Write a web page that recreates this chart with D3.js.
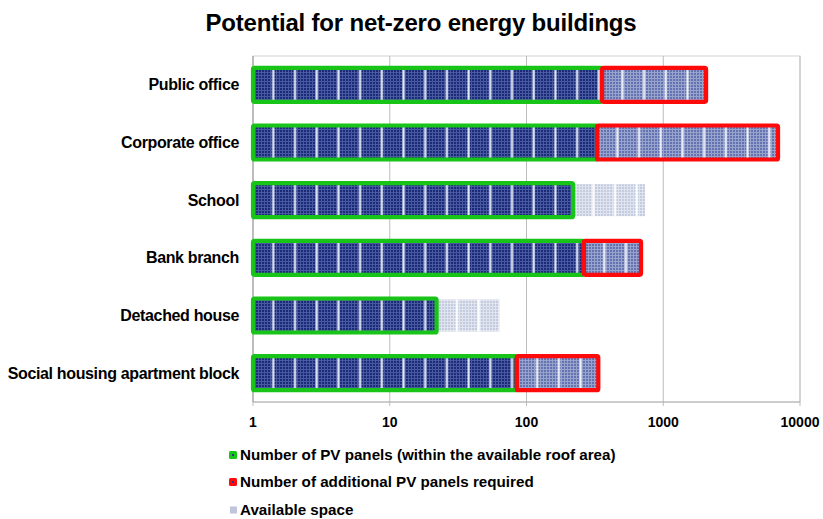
<!DOCTYPE html>
<html>
<head>
<meta charset="utf-8">
<script src="https://cdn.jsdelivr.net/npm/d3@7"></script>
<style>
  body { margin: 0; background: #fff; font-family: "Liberation Sans", Arial, sans-serif; }
</style>
</head>
<body>
<svg id="chart"></svg>
<script>
const categories = [
  "Public office",
  "Corporate office",
  "School",
  "Bank branch",
  "Detached house",
  "Social housing apartment block",
];
// panels that fit on the roof
const panels = [357, 328, 219, 263, 22, 85];
// extra panels needed (stacked on top of panels)
const additional = [1700, 6580, 0, 425, 0, 250];
// unused roof space (stacked on top of panels)
const spare = [0, 0, 517, 0, 42, 0];
const xTicks = [1, 10, 100, 1000, 10000];
const legendLabels = [
  "Number of PV panels (within the available roof area)",
  "Number of additional PV panels required",
  "Available space",
];

const color = {
  green: "#17c417",
  red: "#ff0a0a",
  grid: "#bdbdbd",
};

const size = { width: 823, height: 519 };
const margin = { top: 56, bottom: 117, left: 253, right: 23 };

const svg = d3.select("#chart").attr("width", size.width).attr("height", size.height);

const x = d3
  .scaleLog()
  .domain([1, 10000])
  .range([margin.left, size.width - margin.right]);

const y = d3
  .scaleBand()
  .domain(categories)
  .range([margin.top, size.height - margin.bottom])
  .paddingInner(0.41)
  .paddingOuter(0.205);

// title
svg
  .append("text")
  .text("Potential for net-zero energy buildings")
  .attr("x", 421)
  .attr("y", 31)
  .attr("text-anchor", "middle")
  .style("font-size", "24px")
  .style("letter-spacing", "-0.2px")
  .style("font-weight", "bold");

// plot frame + gridlines
svg
  .append("rect")
  .attr("x", margin.left)
  .attr("y", margin.top)
  .attr("width", x(10000) - x(1))
  .attr("height", size.height - margin.bottom - margin.top)
  .attr("fill", "none")
  .attr("stroke", "#d2d2d2");

const gridG = svg.append("g");
xTicks.forEach((t) => {
  gridG
    .append("line")
    .attr("x1", x(t))
    .attr("x2", x(t))
    .attr("y1", margin.top)
    .attr("y2", size.height - margin.bottom + 4)
    .attr("stroke", color.grid);
  gridG
    .append("text")
    .text(t)
    .attr("x", x(t))
    .attr("y", 427)
    .attr("text-anchor", "middle")
    .style("font-size", "14px")
    .style("font-weight", "bold");
});
gridG
  .append("line")
  .attr("x1", x(1))
  .attr("x2", x(10000))
  .attr("y1", size.height - margin.bottom)
  .attr("y2", size.height - margin.bottom)
  .attr("stroke", "#b0b0b0");
gridG
  .append("line")
  .attr("x1", x(1))
  .attr("x2", x(1))
  .attr("y1", margin.top)
  .attr("y2", size.height - margin.bottom)
  .attr("stroke", "#a8a8a8");

// category labels
svg
  .append("g")
  .selectAll("text")
  .data(categories)
  .join("text")
  .text((d) => d)
  .attr("x", 239)
  .attr("y", (d) => y(d) + y.bandwidth() / 2)
  .attr("dy", "0.35em")
  .attr("text-anchor", "end")
  .style("font-size", "16px")
  .style("letter-spacing", "-0.35px")
  .style("font-weight", "bold");

// solar panel textures
const defs = svg.append("defs");
const cellPattern = (id, base, line) => {
  const p = defs
    .append("pattern")
    .attr("id", id)
    .attr("patternUnits", "userSpaceOnUse")
    .attr("width", 3)
    .attr("height", 3);
  p.append("rect").attr("width", 3).attr("height", 3).attr("fill", base);
  p.append("rect").attr("width", 1).attr("height", 3).attr("fill", line);
  p.append("rect").attr("width", 3).attr("height", 1).attr("fill", line);
};
cellPattern("cellDark", "#1c2b78", "#4859a2");
cellPattern("cellMid", "#6373b0", "#97a3cd");
cellPattern("cellLight", "#c5cbde", "#e0e4ee");

const sepPattern = (id, x0, fill) => {
  const p = defs
    .append("pattern")
    .attr("id", id)
    .attr("patternUnits", "userSpaceOnUse")
    .attr("width", 21.7)
    .attr("height", 10)
    .attr("patternTransform", `translate(${x0},0)`);
  p.append("rect").attr("x", 19.2).attr("width", 2.2).attr("height", 10).attr("fill", fill);
};

const segments = [];
categories.forEach((c, i) => {
  if (spare[i] > 0)
    segments.push({ c, start: panels[i], end: panels[i] + spare[i], kind: "spare" });
  segments.push({ c, start: 1, end: panels[i], kind: "panels" });
  if (additional[i] > 0)
    segments.push({ c, start: panels[i], end: panels[i] + additional[i], kind: "extra" });
});

const style = {
  spare: { cell: "cellLight", sep: "#ffffff", stroke: "none", inset: 1 },
  panels: { cell: "cellDark", sep: "#e4e9f6", stroke: color.green, inset: 0 },
  extra: { cell: "cellMid", sep: "#eef1fa", stroke: color.red, inset: 0 },
};

const barG = svg.append("g");
segments.forEach((s, i) => {
  const st = style[s.kind];
  const x0 = x(s.start);
  const w = x(s.end) - x(s.start);
  const y0 = y(s.c) + st.inset;
  const h = y.bandwidth() - st.inset * 2;
  sepPattern(`sep${i}`, x0, st.sep);
  barG.append("rect").attr("x", x0).attr("y", y0).attr("width", w).attr("height", h).attr("fill", `url(#${st.cell})`);
  barG.append("rect").attr("x", x0).attr("y", y0).attr("width", w).attr("height", h).attr("fill", `url(#sep${i})`);
  if (st.stroke !== "none") {
    barG
      .append("rect")
      .attr("x", x0)
      .attr("y", y0)
      .attr("width", w)
      .attr("height", h)
      .attr("rx", 1.5)
      .attr("fill", "none")
      .attr("stroke", st.stroke)
      .attr("stroke-width", 4.2);
  }
});

// legend
const legendY = [455, 482, 510];
const legend = svg.append("g");
legendLabels.forEach((lab, i) => {
  if (i < 2) {
    legend
      .append("rect")
      .attr("x", 229)
      .attr("y", legendY[i] - 4)
      .attr("width", 8)
      .attr("height", 8)
      .attr("rx", 1.5)
      .attr("fill", i === 0 ? color.green : color.red);
    legend
      .append("rect")
      .attr("x", 232)
      .attr("y", legendY[i] - 1)
      .attr("width", 2)
      .attr("height", 2)
      .attr("fill", "#2a3a80");
  } else {
    legend
      .append("rect")
      .attr("x", 230)
      .attr("y", legendY[i] - 3.5)
      .attr("width", 7)
      .attr("height", 7)
      .attr("fill", "#bfc5da");
  }
  legend
    .append("text")
    .text(lab)
    .attr("x", 240)
    .attr("y", legendY[i])
    .attr("dy", "0.35em")
    .style("font-size", "15.2px")
    .style("font-weight", "bold");
});
</script>
</body>
</html>
